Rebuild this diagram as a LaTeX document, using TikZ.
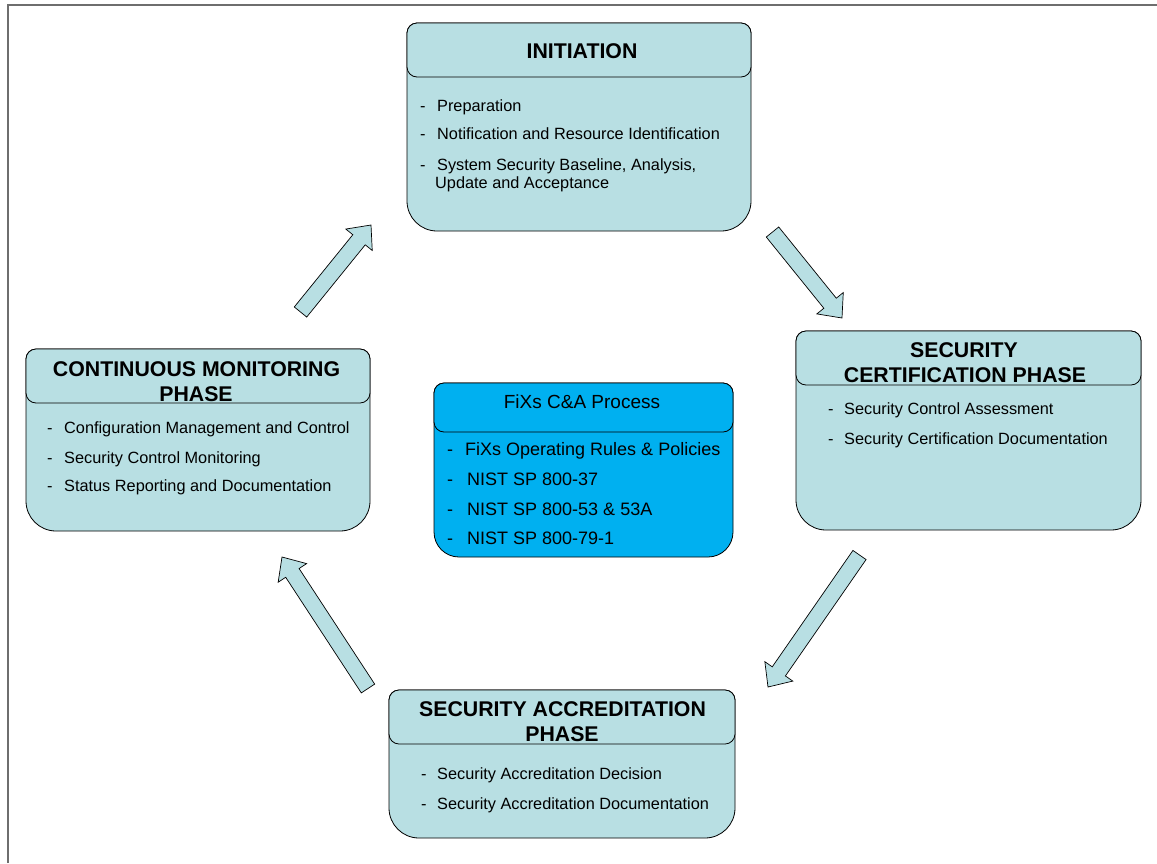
\documentclass[tikz,border=0pt]{standalone}
\usepackage{fontspec}
\setmainfont{Liberation Sans}
\usetikzlibrary{calc}

\definecolor{phasefill}{RGB}{184,223,227}
\definecolor{corefill}{RGB}{0,176,240}
\definecolor{framegray}{RGB}{110,110,110}

\tikzset{
  boxline/.style={draw=black, line width=0.8pt},
  area/.style={inner sep=0pt, outer sep=0pt, anchor=north west},
  headbar/.style={area, boxline, rounded corners=10pt},
  phasetitle/.style={font=\fontsize{21.3}{25}\selectfont\bfseries, anchor=base, inner sep=0pt},
  entry/.style={font=\fontsize{16.3}{19}\selectfont, anchor=base west, inner sep=0pt},
  coretitle/.style={font=\fontsize{19}{22}\selectfont, anchor=base, inner sep=0pt},
  coreentry/.style={font=\fontsize{18}{21}\selectfont, anchor=base west, inner sep=0pt},
  flowarrow/.style={draw=black, line width=0.7pt, fill=phasefill, line join=miter},
}

% body of a phase box: small radius on top, larger radius at the bottom
\newcommand{\boxbody}[3]{%
  \filldraw[boxline, fill=#2, rounded corners=10pt]
    (#1.west) |- (#1.north) -| (#1.east)
    [rounded corners=#3] |- (#1.south) -| (#1.west) -- cycle;}

% list entry with a leading dash
\newcommand{\dashitem}[2]{\makebox[#1][l]{-}#2}

% wide block arrow from a tail point to a tip point
\newcommand{\blkarrow}[2]{%
  \coordinate (#2-base) at ($(#2)!19pt!(#1)$);
  \filldraw[flowarrow]
    ($(#1)!8pt!90:(#2)$) -- ($(#2-base)!8pt!90:(#2)$) -- ($(#2-base)!17pt!90:(#2)$)
    -- (#2)
    -- ($(#2-base)!17pt!-90:(#2)$) -- ($(#2-base)!8pt!-90:(#2)$) -- ($(#1)!8pt!-90:(#2)$)
    -- cycle;}

\begin{document}
\begin{tikzpicture}[x=1pt, y=-1pt]
\useasboundingbox (0,0) rectangle (1157,863);
\fill[white] (0,0) rectangle (1157,863);

% page frame
\draw[framegray, line width=1.5pt] (8,863) -- (8,5) -- (1157,5);

% ---------- Initiation ----------
\node[area, minimum width=344pt, minimum height=208pt] (init) at (407,23) {};
\boxbody{init}{phasefill}{30pt}
\node[headbar, fill=phasefill, minimum width=344pt, minimum height=54pt] (init-head) at (init.north west) {};
\node[phasetitle] (init-title) at (582,58.3) {INITIATION};
\node[entry] (init-1) at (420,111) {\dashitem{17pt}{Preparation}};
\node[entry] (init-2) at (420,139) {\dashitem{17pt}{Notification and Resource Identification}};
\node[entry] (init-3) at (420,170.5) {\dashitem{17pt}{System Security Baseline, Analysis,}};
\node[entry] (init-4) at (435,188.5) {Update and Acceptance};

% ---------- Security certification ----------
\node[area, minimum width=345pt, minimum height=199pt] (cert) at (796,331) {};
\boxbody{cert}{phasefill}{30pt}
\node[headbar, fill=phasefill, minimum width=345pt, minimum height=54pt] (cert-head) at (cert.north west) {};
\node[phasetitle] (cert-title1) at (964,357.7) {SECURITY};
\node[phasetitle] (cert-title2) at (965,382.7) {CERTIFICATION PHASE};
\node[entry] (cert-1) at (828,414.3) {\dashitem{16pt}{Security Control Assessment}};
\node[entry] (cert-2) at (828,444.3) {\dashitem{16pt}{Security Certification Documentation}};

% ---------- Security accreditation ----------
\node[area, minimum width=346pt, minimum height=148pt] (accr) at (389,690) {};
\boxbody{accr}{phasefill}{30pt}
\node[headbar, fill=phasefill, minimum width=346pt, minimum height=54pt] (accr-head) at (accr.north west) {};
\node[phasetitle] (accr-title1) at (562.5,716) {SECURITY ACCREDITATION};
\node[phasetitle] (accr-title2) at (562,741.7) {PHASE};
\node[entry] (accr-1) at (421,779.3) {\dashitem{16pt}{Security Accreditation Decision}};
\node[entry] (accr-2) at (421,809.3) {\dashitem{16pt}{Security Accreditation Documentation}};

% ---------- Continuous monitoring ----------
\node[area, minimum width=344pt, minimum height=182pt] (cont) at (26,349) {};
\boxbody{cont}{phasefill}{30pt}
\node[headbar, fill=phasefill, minimum width=344pt, minimum height=54pt] (cont-head) at (cont.north west) {};
\node[phasetitle] (cont-title1) at (196.5,376) {CONTINUOUS MONITORING};
\node[phasetitle] (cont-title2) at (196,401) {PHASE};
\node[entry] (cont-1) at (47,433) {\dashitem{17pt}{Configuration Management and Control}};
\node[entry] (cont-2) at (47,463) {\dashitem{17pt}{Security Control Monitoring}};
\node[entry] (cont-3) at (47,491.7) {\dashitem{17pt}{Status Reporting and Documentation}};

% ---------- Central process box ----------
\node[area, minimum width=299pt, minimum height=174pt] (core) at (434,383) {};
\boxbody{core}{corefill}{25pt}
\node[headbar, fill=corefill, minimum width=299pt, minimum height=49pt] (core-head) at (core.north west) {};
\node[coretitle] (core-title) at (582,408) {FiXs C\&A Process};
\node[coreentry] (core-1) at (447,455) {\dashitem{18pt}{FiXs Operating Rules \& Policies}};
\node[coreentry] (core-2) at (447,485) {\dashitem{20pt}{NIST SP 800-37}};
\node[coreentry] (core-3) at (447,515.7) {\dashitem{20pt}{NIST SP 800-53 \& 53A}};
\node[coreentry] (core-4) at (447,544) {\dashitem{20pt}{NIST SP 800-79-1}};

% ---------- Cycle arrows ----------
\coordinate (a1-tail) at (772.5,232);
\coordinate (a1-tip) at (842,318);
\coordinate (a2-tail) at (859.5,555);
\coordinate (a2-tip) at (768,687);
\coordinate (a3-tail) at (368,688.5);
\coordinate (a3-tip) at (282,557);
\coordinate (a4-tail) at (300.5,312);
\coordinate (a4-tip) at (371,225);
\blkarrow{a1-tail}{a1-tip}
\blkarrow{a2-tail}{a2-tip}
\blkarrow{a3-tail}{a3-tip}
\blkarrow{a4-tail}{a4-tip}

\end{tikzpicture}
\end{document}
